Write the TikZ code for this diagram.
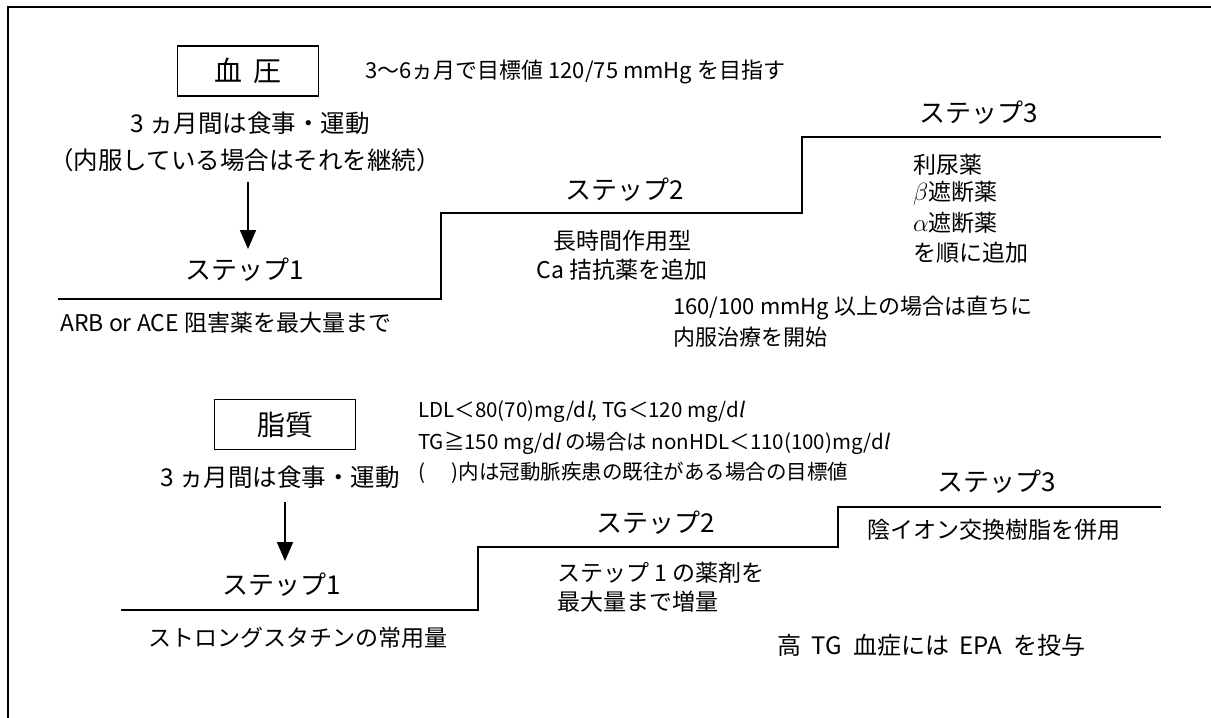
\documentclass[tikz,border=0pt]{standalone}
\usepackage{fontspec}
\setmainfont{Noto Sans CJK JP}[ItalicFont={Noto Sans CJK JP}, ItalicFeatures={FakeSlant=0.2}]
\usetikzlibrary{arrows.meta}
\tikzset{
  txt/.style={inner sep=0pt, font=\fontsize{23}{27}\selectfont},
  big/.style={inner sep=0pt, font=\fontsize{24.5}{28}\selectfont},
  note/.style={inner sep=0pt, font=\fontsize{22}{26}\selectfont},
  small/.style={inner sep=0pt, font=\fontsize{20.5}{24}\selectfont},
  steplbl/.style={inner sep=0pt, font=\fontsize{26}{30}\selectfont},
  boxlbl/.style={draw, line width=1.5pt, minimum width=141pt, minimum height=50pt, inner sep=0pt, font=\fontsize{28}{32}\selectfont},
  stairs/.style={line width=2pt},
  arr/.style={line width=1.8pt, -{Triangle[width=16pt,length=19pt]}},
  frameline/.style={line width=2pt}
}
\begin{document}
\begin{tikzpicture}[x=1pt,y=-1pt]
\useasboundingbox (0,0) rectangle (1211,718);
% frame
\draw[frameline] (7.5,718) -- (7.5,6.5) -- (1211,6.5);

% ===== Blood pressure =====
\node[boxlbl] (bpbox) at (248,71) {血\hspace{0.4em}圧};
\node[note, anchor=west] (bpgoal) at (365,72) {3～6ヵ月で目標値 120/75 mmHg を目指す};
\node[big] (bpl1) at (250,123) {3 ヵ月間は食事・運動};
\node[big] (bpl2) at (245,160) {（内服している場合はそれを継続）};
\node[steplbl] (bps1) at (245,270) {ステップ1};
\node[txt, anchor=west] (bpd1) at (60,323) {ARB or ACE 阻害薬を最大量まで};
\node[steplbl] (bps2) at (625,190) {ステップ2};
\node[txt] (bpd2a) at (622,241) {長時間作用型};
\node[txt] (bpd2b) at (622,270) {Ca 拮抗薬を追加};
\node[steplbl] (bps3) at (979,113) {ステップ3};
\node[txt, anchor=west] (bpd3a) at (913,165) {利尿薬};
\node[txt, anchor=west] (bpd3b) at (913,193) {$\beta$遮断薬};
\node[txt, anchor=west] (bpd3c) at (913,223) {$\alpha$遮断薬};
\node[txt, anchor=west] (bpd3d) at (913,253) {を順に追加};
\node[note, anchor=west] (bpn1) at (673,308) {160/100 mmHg 以上の場合は直ちに};
\node[note, anchor=west] (bpn2) at (673,337) {内服治療を開始};

\draw[arr, shorten <=10pt, shorten >=9pt] (bpl2.south -| bpbox) -- (bps1.north -| bpbox);
\draw[stairs] (58,299) -- (441,299) -- (441,213) -- (802,213) -- (802,137) -- (1161,137);

% ===== Lipids =====
\node[boxlbl] (lpbox) at (285,424.5) {脂質};
\node[small, anchor=west] (lpg1) at (418,412) {LDL＜80(70)mg/d\textit{l}, TG＜120 mg/d\textit{l}};
\node[small, anchor=west] (lpg2) at (418,443) {TG≧150 mg/d\textit{l} の場合は nonHDL＜110(100)mg/d\textit{l}};
\node[small, anchor=west] (lpg3) at (418,473) {(\hspace{1.3em})内は冠動脈疾患の既往がある場合の目標値};
\node[big] (lpl1) at (280,477) {3 ヵ月間は食事・運動};
\node[steplbl] (lps1) at (282,585) {ステップ1};
\node[txt, anchor=west] (lpd1) at (148,638) {ストロングスタチンの常用量};
\node[steplbl] (lps2) at (656,523) {ステップ2};
\node[txt, anchor=west] (lpd2a) at (557,573) {ステップ 1 の薬剤を};
\node[txt, anchor=west] (lpd2b) at (557,602) {最大量まで増量};
\node[steplbl] (lps3) at (997,482) {ステップ3};
\node[txt, anchor=west] (lpd3) at (867,530) {陰イオン交換樹脂を併用};
\node[inner sep=0pt, font=\fontsize{24}{28}\selectfont, anchor=west] (lpn) at (777,645) {高\hspace{0.45em}TG\hspace{0.45em}血症には\hspace{0.45em}EPA\hspace{0.45em}を投与};

\draw[arr, shorten <=13pt, shorten >=12pt] (lpl1.south -| lpbox) -- (lps1.north -| lpbox);
\draw[stairs] (121,610) -- (478,610) -- (478,547) -- (838,547) -- (838,507) -- (1161,507);
\end{tikzpicture}
\end{document}
